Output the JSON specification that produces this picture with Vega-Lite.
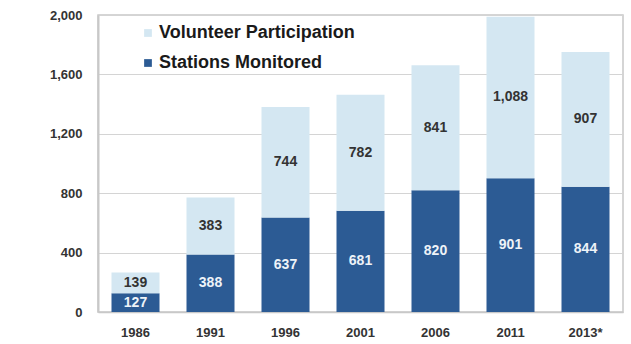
{
  "$schema": "https://vega.github.io/schema/vega-lite/v6.json",
  "width": 525,
  "height": 297,
  "autosize": {"type": "none"},
  "padding": {"left": 98, "top": 15, "right": 8, "bottom": 32},
  "background": "white",
  "config": {
    "font": "Liberation Sans",
    "view": {"stroke": "#c8c8c8", "strokeWidth": 1.5}
  },
  "data": {
    "values": [
      {"year": "1986", "series": "Stations Monitored", "value": 127},
      {"year": "1986", "series": "Volunteer Participation", "value": 139},
      {"year": "1991", "series": "Stations Monitored", "value": 388},
      {"year": "1991", "series": "Volunteer Participation", "value": 383},
      {"year": "1996", "series": "Stations Monitored", "value": 637},
      {"year": "1996", "series": "Volunteer Participation", "value": 744},
      {"year": "2001", "series": "Stations Monitored", "value": 681},
      {"year": "2001", "series": "Volunteer Participation", "value": 782},
      {"year": "2006", "series": "Stations Monitored", "value": 820},
      {"year": "2006", "series": "Volunteer Participation", "value": 841},
      {"year": "2011", "series": "Stations Monitored", "value": 901},
      {"year": "2011", "series": "Volunteer Participation", "value": 1088},
      {"year": "2013*", "series": "Stations Monitored", "value": 844},
      {"year": "2013*", "series": "Volunteer Participation", "value": 907}
    ]
  },
  "transform": [
    {
      "stack": "value",
      "groupby": ["year"],
      "sort": [{"field": "series", "order": "ascending"}],
      "as": ["v0", "v1"]
    }
  ],
  "encoding": {
    "x": {
      "field": "year",
      "type": "ordinal",
      "sort": null,
      "title": null,
      "scale": {"paddingInner": 0.36, "paddingOuter": 0.18},
      "axis": {
        "labelAngle": 0,
        "labelFontSize": 13,
        "labelFontWeight": "bold",
        "labelColor": "#333333",
        "labelPadding": 14,
        "ticks": false,
        "domainColor": "#c8c8c8",
        "domainWidth": 1.5
      }
    }
  },
  "layer": [
    {
      "mark": {"type": "bar"},
      "encoding": {
        "y": {
          "field": "v0",
          "type": "quantitative",
          "title": null,
          "scale": {"domain": [0, 2000], "nice": false},
          "axis": {
            "values": [0, 400, 800, 1200, 1600, 2000],
            "format": ",d",
            "labelFontSize": 13,
            "labelFontWeight": "bold",
            "labelColor": "#333333",
            "labelPadding": 16,
            "ticks": false,
            "domainColor": "#c8c8c8",
            "domainWidth": 2,
            "gridColor": "#d4d4d4",
            "gridWidth": 1.2
          }
        },
        "y2": {"field": "v1"},
        "color": {
          "field": "series",
          "type": "nominal",
          "scale": {
            "domain": ["Volunteer Participation", "Stations Monitored"],
            "range": ["#d4e7f2", "#2c5b94"]
          },
          "legend": {
            "title": null,
            "orient": "none",
            "legendX": 41,
            "legendY": 9,
            "symbolType": "square",
            "symbolSize": 60,
            "symbolStrokeWidth": 0,
            "labelFontSize": 18,
            "labelFontWeight": "bold",
            "labelColor": "#1a1a1a",
            "labelOffset": 2,
            "labelLimit": 0,
            "rowPadding": 12
          }
        }
      }
    },
    {
      "transform": [
        {"fold": ["v0", "v1"], "as": ["edge", "pos"]},
        {
          "aggregate": [{"op": "mean", "field": "pos", "as": "mid"}],
          "groupby": ["year", "series", "value"]
        }
      ],
      "mark": {
        "type": "text",
        "fontSize": 14,
        "fontWeight": "bold",
        "baseline": "middle",
        "align": "center"
      },
      "encoding": {
        "y": {"field": "mid", "type": "quantitative"},
        "text": {"field": "value", "type": "quantitative", "format": ",d"},
        "color": {
          "condition": {"test": "datum.series === 'Stations Monitored'", "value": "#eef3f8"},
          "value": "#333333"
        }
      }
    }
  ]
}
